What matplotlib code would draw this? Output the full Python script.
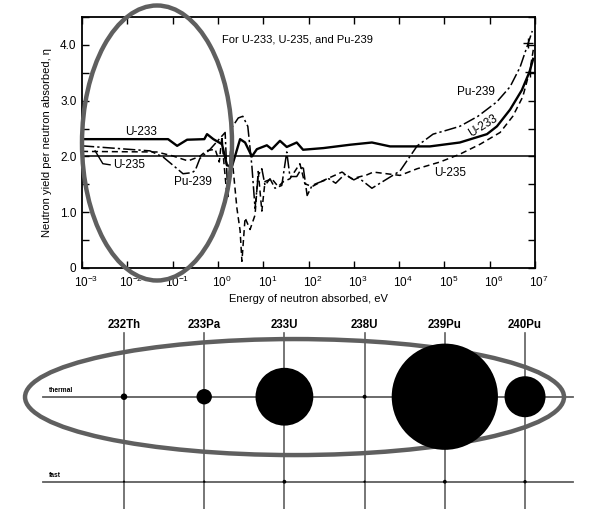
import numpy as np
import matplotlib
matplotlib.use("Agg")
import matplotlib.pyplot as plt
from matplotlib.patches import Ellipse
from matplotlib.transforms import ScaledTranslation
from matplotlib.ticker import LogLocator, NullLocator, MultipleLocator, FuncFormatter

plt.rcParams['font.family'] = ['Liberation Sans', 'DejaVu Sans']

# --- top chart: eta vs neutron energy (log10 of energy in eV) ---
U233_LOGE = [-3, -1.1, -0.9, -0.68, -0.3, -0.24, -0.1, 0.09, 0.2, 0.31, 0.49, 0.6, 0.75,
             0.86, 1.08, 1.19, 1.37, 1.52, 1.74, 1.88, 2.33, 2.92, 3.4, 3.8, 4.68, 5.34,
             5.94, 6.16, 6.45, 6.71, 6.88, 6.96]
U233_ETA = [2.31, 2.31, 2.19, 2.30, 2.31, 2.40, 2.31, 2.22, 1.84, 1.82, 2.31, 2.25, 2.0,
            2.13, 2.2, 2.13, 2.28, 2.17, 2.25, 2.12, 2.15, 2.21, 2.25, 2.18, 2.18, 2.25,
            2.40, 2.54, 2.84, 3.19, 3.52, 3.75]

U235_LOGE = [-3, -1.35, -1.0, -0.66, -0.4, -0.26, -0.06, 0.03, 0.09, 0.12, 0.2, 0.31, 0.42,
             0.49, 0.53, 0.6, 0.71, 0.82, 0.89, 0.97, 1.04, 1.19, 1.33, 1.45, 1.59, 1.81,
             1.92, 2.08, 2.33, 2.74, 2.96, 3.29, 3.43, 4.02, 4.4, 4.9, 5.34, 5.79, 6.23,
             6.51, 6.73, 6.89, 6.97]
U235_ETA = [2.09, 2.08, 2.01, 1.92, 2.0, 2.1, 2.13, 1.9, 2.36, 2.0, 1.29, 2.0, 1.07,
            0.67, 0.12, 0.9, 0.69, 0.95, 1.73, 1.02, 1.55, 1.6, 1.46, 1.55, 1.6, 1.87,
            1.51, 1.46, 1.57, 1.72, 1.6, 1.67, 1.72, 1.66, 1.78, 1.9, 2.04, 2.22, 2.43,
            2.72, 3.07, 3.55, 3.95]

PU239_LOGE = [-3, -1.5, -1.21, -0.9, -0.77, -0.57, -0.5, -0.4, -0.17, 0.16, 0.22, 0.31,
              0.45, 0.55, 0.66, 0.75, 0.82, 0.89, 0.97, 1.04, 1.15, 1.26, 1.41, 1.52, 1.59,
              1.74, 1.88, 1.97, 2.08, 2.19, 2.45, 2.6, 2.8, 3.0, 3.1, 3.4, 4.02, 4.4, 4.75,
              5.01, 5.34, 5.74, 6.16, 6.45, 6.67, 6.85, 6.94]
PU239_ETA = [2.19, 2.10, 1.99, 1.78, 1.69, 1.71, 1.75, 1.96, 2.13, 2.43, 1.28, 2.52,
             2.69, 2.72, 2.54, 1.83, 1.07, 1.66, 1.78, 1.48, 1.6, 1.43, 1.48, 2.08, 1.64,
             1.64, 1.83, 1.3, 1.48, 1.52, 1.6, 1.52, 1.68, 1.58, 1.62, 1.43, 1.74, 2.19, 2.4,
             2.46, 2.54, 2.72, 2.98, 3.25, 3.6, 4.03, 4.25]

# end points marked with "+"
END_LOGE = [6.88, 6.85]
END_ETA = [3.52, 4.03]

# --- bottom chart: nuclides, thermal and fast values (area of circles) ---
NUCLIDES = ['232Th', '233Pa', '233U', '238U', '239Pu', '240Pu']
THERMAL = [7.4, 41, 577, 2.7, 1950, 290]
FAST = [0.8, 1.0, 2.5, 1.0, 2.5, 2.0]
ROWS = ['fast', 'thermal']

GRAY = '#5f5f5f'


def plot_eta(fig):
    """Top panel: neutron yield per neutron absorbed."""
    ax = fig.add_axes([82 / 592, 1 - 268 / 509, 453 / 592, 251 / 509])
    ax.plot(10 ** np.array(U233_LOGE), U233_ETA, 'k-', lw=1.7)
    ax.plot(10 ** np.array(U235_LOGE), U235_ETA, 'k', lw=1.1, dashes=(4, 2.5))
    ax.plot(10 ** np.array(PU239_LOGE), PU239_ETA, 'k', lw=1.1, dashes=(8, 2, 1.5, 2))
    ax.plot(10 ** np.array(END_LOGE), END_ETA, 'k+', ms=7, mew=1)
    ax.axhline(2.0, color='k', lw=1.1)

    ax.set_xscale('log')
    ax.set_xlim(1e-3, 1e7)
    ax.set_ylim(0, 4.5)
    ax.xaxis.set_major_locator(LogLocator(base=10, numticks=12))
    ax.xaxis.set_minor_locator(NullLocator())
    ax.yaxis.set_major_locator(MultipleLocator(1.0))
    ax.yaxis.set_minor_locator(MultipleLocator(0.5))
    ax.yaxis.set_major_formatter(FuncFormatter(lambda v, p: '0' if v == 0 else f'{v:.1f}'))
    ax.tick_params(which='both', direction='in', top=True, right=True, length=5,
                   width=1, labelsize=8.5, pad=4)
    ax.tick_params(axis='x', pad=5)
    for s in ax.spines.values():
        s.set_linewidth(1.3)

    ax.set_xlabel('Energy of neutron absorbed, eV', fontsize=8, labelpad=3)
    ax.set_ylabel('Neutron yield per neutron absorbed, η', fontsize=8, labelpad=6)

    ax.text(10 ** 0.09, 4.09, 'For U-233, U-235, and Pu-239', fontsize=8, va='center')
    ax.text(10 ** -1.70, 2.43, 'U-233', fontsize=8.5, ha='center', va='center')
    ax.text(10 ** -1.97, 1.85, 'U-235', fontsize=8.5, ha='center', va='center')
    ax.plot(10 ** np.array([-2.71, -2.54, -2.38]), [2.10, 1.87, 1.85], 'k-', lw=1)
    ax.text(10 ** -0.55, 1.55, 'Pu-239', fontsize=8.5, ha='center', va='center')
    ax.text(10 ** 5.70, 3.16, 'Pu-239', fontsize=8.5, ha='center', va='center')
    ax.text(10 ** 5.85, 2.54, 'U-233', fontsize=8.5, ha='center', va='center', rotation=32)
    ax.text(10 ** 5.12, 1.71, 'U-235', fontsize=8.5, ha='center', va='center')

    fig.add_artist(Ellipse((157 / 592, 1 - 143 / 509), 150 / 592, 275 / 509,
                           transform=fig.transFigure, fill=False, ec=GRAY, lw=3.2))
    return ax


def plot_bubbles(fig):
    """Bottom panel: thermal / fast circles per nuclide."""
    ax = fig.add_axes([0, 0, 1, 209 / 509])
    ax.set_xlim(-1.546, 5.835)
    ax.set_ylim(-0.321, 2.138)
    ax.axis('off')

    x = np.arange(len(NUCLIDES))
    for i, name in enumerate(NUCLIDES):
        ax.plot([i, i], [-0.4, 1.75], color=GRAY, lw=1.2, zorder=1)
        ax.text(i, 1.843, name, fontsize=8.3, fontweight='bold', ha='center', va='center')
    for j, row in enumerate(ROWS):
        ax.plot([-1.01, 5.6], [j, j], color=GRAY, lw=1.3, zorder=1)
        ax.text(-0.935, j + 0.07, row, fontsize=4.8, fontweight='bold', ha='left', va='center')

    ax.add_patch(Ellipse((2.126, 0.996), 6.72, 1.365, fill=False, ec=GRAY, lw=3.2, zorder=2))
    ax.scatter(x, np.ones(len(x)), s=np.array(THERMAL) * 3.0, color='k', lw=0, zorder=3)
    ax.scatter(x, np.zeros(len(x)), s=np.array(FAST) * 3.0, color='k', lw=0, zorder=3)


def main():
    fig = plt.figure(figsize=(5.92, 5.09), dpi=100)
    ax = plot_eta(fig)
    plot_bubbles(fig)

    # nudge the 10^n labels right so the base sits under the tick, as in the scan
    fig.canvas.draw()
    shift = ScaledTranslation(3 / 72, 0, fig.dpi_scale_trans)
    for lbl in ax.get_xticklabels():
        lbl.set_transform(lbl.get_transform() + shift)

    fig.savefig('out.png', dpi=100)


if __name__ == "__main__":
    main()
